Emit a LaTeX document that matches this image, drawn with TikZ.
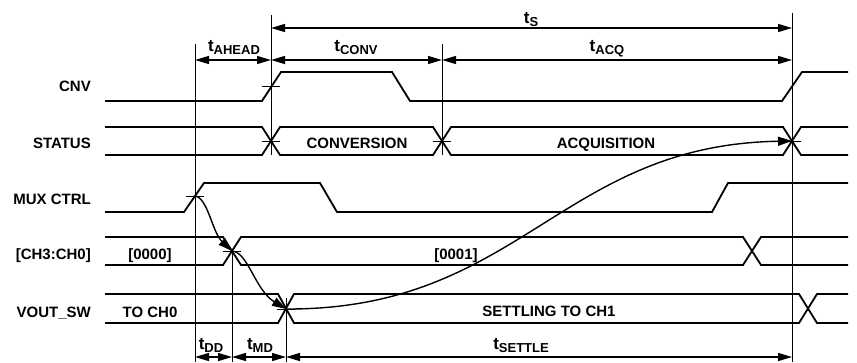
\documentclass[tikz,border=0pt]{standalone}
\usepackage{fontspec}
\setmainfont{Liberation Sans}
\usetikzlibrary{arrows.meta}
\newcommand{\tsub}[1]{{\fontsize{17}{17}\selectfont t}\raisebox{-3pt}{\fontsize{13}{13}\selectfont #1}}
\begin{document}
\begin{tikzpicture}[x=1pt,y=-1pt,
  sig/.style={line width=1.8pt},
  grid line/.style={line width=1pt},
  tick/.style={line width=1pt},
  dim/.style={{Triangle[length=14pt,width=8pt]}-{Triangle[length=14pt,width=8pt]},line width=1.3pt},
  curve/.style={-{Triangle[length=14pt,width=9pt]},line width=1.4pt},
  sig name/.style={anchor=base east,inner sep=0pt,font=\fontsize{15}{15}\selectfont\bfseries},
  bus name/.style={anchor=base,inner sep=0pt,font=\fontsize{15}{15}\selectfont\bfseries},
  time name/.style={anchor=base,inner sep=0pt,font=\bfseries}]
  \useasboundingbox (0,0) rectangle (857,362);

  \coordinate (cnvX) at (271,86);
  \coordinate (stA) at (271,141);
  \coordinate (stB) at (442,141);
  \coordinate (stC) at (792,141);
  \coordinate (muxX) at (195,196);
  \coordinate (chX) at (232,251);
  \coordinate (voX) at (286,309);

  \node[sig name] (cnv) at (91,91.7) {CNV};
  \node[sig name] (status) at (91,148.3) {STATUS};
  \node[sig name] (mux) at (91,204) {MUX CTRL};
  \node[sig name] (ch) at (91,259.5) {[CH3:CH0]};
  \node[sig name] (vout) at (91,317.7) {VOUT\_SW};

  \draw[grid line] (muxX |- 0,44) -- (muxX |- 0,362);
  \draw[grid line] (stA |- 0,15) -- (stA |- 0,155);
  \draw[grid line] (stB |- 0,44) -- (stB |- 0,155);
  \draw[grid line] (stC |- 0,13) -- (stC |- 0,362);
  \draw[grid line] (chX) -- (chX |- 0,362);
  \draw[grid line] (voX |- 0,298) -- (voX |- 0,362);

  \draw[sig] (105,101) -- (262,101) -- (281,72) -- (392,72) -- (410,101) -- (782,101) -- (802,72) -- (848,72);
  \draw[sig] (105,127) -- (262,127) -- (280,155) -- (433,155) -- (451,127) -- (783,127) -- (801,155) -- (848,155);
  \draw[sig] (105,155) -- (262,155) -- (280,127) -- (433,127) -- (451,155) -- (783,155) -- (801,127) -- (848,127);
  \draw[sig] (105,212) -- (184,212) -- (204,183) -- (320,183) -- (337,212) -- (712,212) -- (728,183) -- (848,183);
  \draw[sig] (105,237) -- (223,237) -- (241,265) -- (743,265) -- (761,237) -- (848,237);
  \draw[sig] (105,265) -- (223,265) -- (241,237) -- (743,237) -- (761,265) -- (848,265);
  \draw[sig] (105,294) -- (278,294) -- (294,323) -- (799,323) -- (817,294) -- (848,294);
  \draw[sig] (105,323) -- (278,323) -- (294,294) -- (799,294) -- (817,323) -- (848,323);

  \foreach \p in {cnvX,stA,stB,stC,muxX,chX,voX}
    \draw[tick] ([xshift=-9pt]\p) -- ([xshift=9pt]\p);

  \node[bus name] (conv) at (357,148.5) {CONVERSION};
  \node[bus name] (acq) at (606,148.5) {ACQUISITION};
  \node[bus name] (old) at (150,259.5) {[0000]};
  \node[bus name] (new) at (456,259.5) {[0001]};
  \node[bus name] (to0) at (150,317.7) {TO CH0};
  \node[bus name] (to1) at (549,316.7) {SETTLING TO CH1};

  \draw[dim] (stA |- 0,28) -- (stC |- 0,28);
  \draw[dim] (muxX |- 0,60) -- (stA |- 0,60);
  \draw[dim] (stA |- 0,60) -- (stB |- 0,60);
  \draw[dim] (stB |- 0,60) -- (stC |- 0,60);
  \draw[dim] (muxX |- 0,357) -- (chX |- 0,357);
  \draw[dim] (chX |- 0,357) -- (voX |- 0,357);
  \draw[dim] (voX |- 0,357) -- (stC |- 0,357);

  \node[time name] (ts) at (531,23) {\tsub{S}};
  \node[time name] (tahead) at (234,51) {\tsub{AHEAD}};
  \node[time name] (tconv) at (356,51) {\tsub{CONV}};
  \node[time name] (tacq) at (607,51) {\tsub{ACQ}};
  \node[time name] (tdd) at (211,349) {\tsub{DD}};
  \node[time name] (tmd) at (260,349) {\tsub{MD}};
  \node[time name] (tsettle) at (521,349) {\tsub{SETTLE}};

  \draw[curve] (muxX) .. controls (208,198) and (212,232) .. (chX);
  \draw[curve] (chX) .. controls (248,252) and (255,290) .. (voX);
  \draw[curve] (voX) .. controls (520,310) and (560,145) .. (stC);
\end{tikzpicture}
\end{document}
